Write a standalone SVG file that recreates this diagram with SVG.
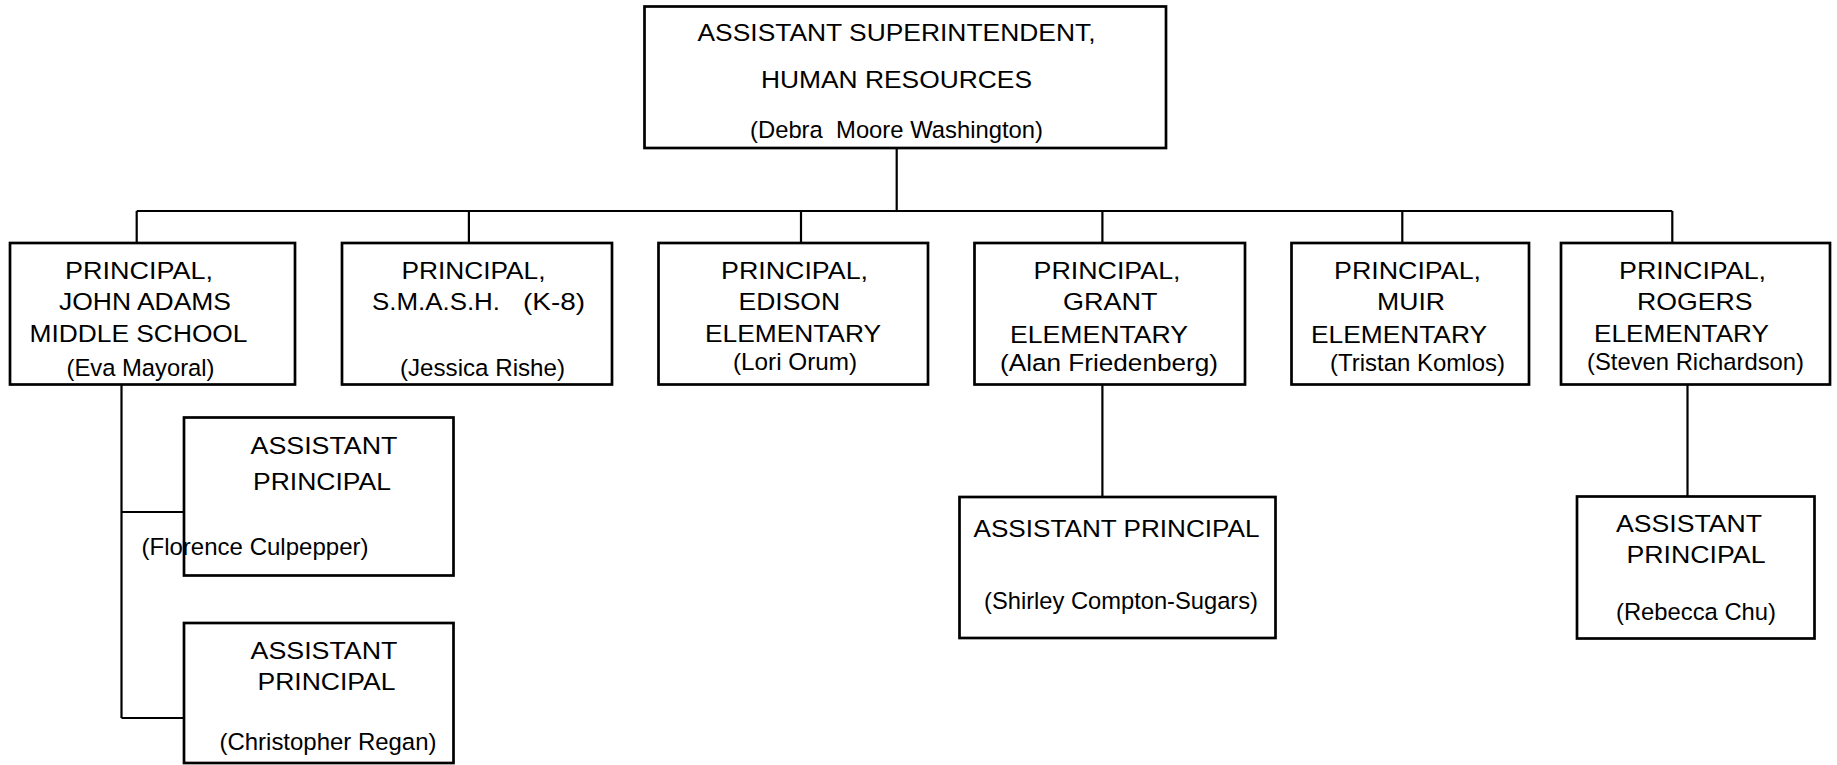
<svg xmlns="http://www.w3.org/2000/svg" width="1837" height="765" viewBox="0 0 1837 765">
<style>
.box{fill:#fff;stroke:#000;stroke-width:2.7}
.ln{fill:none;stroke:#000;stroke-width:2.2}
text{font-family:"Liberation Sans",Arial,sans-serif;font-size:24.5px;fill:#000}
</style>
<rect width="1837" height="765" fill="#fff"/>
<g id="connectors">
<path class="ln" d="M896.7,148 V211 M136.7,211 H1672.3 M136.7,211 V243 M468.9,211 V243 M801,211 V243 M1102.4,211 V243 M1402.3,211 V243 M1672.3,211 V243"/>
<path class="ln" d="M121.5,385 V718 M121.5,512 H184 M121.5,718 H184"/>
<path class="ln" d="M1102.4,385 V497"/>
<path class="ln" d="M1687.5,385 V496"/>
</g>
<g id="n-asst-super">
<rect class="box" x="644.5" y="6.5" width="521.5" height="141.5"/>
<text x="697.5" y="40.5" textLength="398" lengthAdjust="spacingAndGlyphs">ASSISTANT SUPERINTENDENT,</text>
<text x="761" y="88" textLength="271" lengthAdjust="spacingAndGlyphs">HUMAN RESOURCES</text>
<text x="750" y="137.5" textLength="293" lengthAdjust="spacingAndGlyphs" xml:space="preserve">(Debra  Moore Washington)</text>
</g>
<g id="n-john-adams">
<rect class="box" x="10" y="243" width="285" height="141.5"/>
<text x="65" y="278.5" textLength="148" lengthAdjust="spacingAndGlyphs">PRINCIPAL,</text>
<text x="59" y="310" textLength="172" lengthAdjust="spacingAndGlyphs">JOHN ADAMS</text>
<text x="29.5" y="341.7" textLength="218" lengthAdjust="spacingAndGlyphs">MIDDLE SCHOOL</text>
<text x="66.5" y="375.5" textLength="148" lengthAdjust="spacingAndGlyphs">(Eva Mayoral)</text>
</g>
<g id="n-smash">
<rect class="box" x="342" y="243" width="270" height="141.5"/>
<text x="401.5" y="278.5" textLength="144" lengthAdjust="spacingAndGlyphs">PRINCIPAL,</text>
<text y="310"><tspan x="372" textLength="128" lengthAdjust="spacingAndGlyphs">S.M.A.S.H.</tspan><tspan x="523" textLength="62" lengthAdjust="spacingAndGlyphs">(K-8)</tspan></text>
<text x="400" y="376" textLength="165" lengthAdjust="spacingAndGlyphs">(Jessica Rishe)</text>
</g>
<g id="n-edison">
<rect class="box" x="658.5" y="243" width="269.5" height="141.5"/>
<text x="721" y="278.5" textLength="147" lengthAdjust="spacingAndGlyphs">PRINCIPAL,</text>
<text x="738.5" y="310" textLength="101.5" lengthAdjust="spacingAndGlyphs">EDISON</text>
<text x="705" y="341.7" textLength="176" lengthAdjust="spacingAndGlyphs">ELEMENTARY</text>
<text x="733" y="369.5" textLength="124" lengthAdjust="spacingAndGlyphs">(Lori Orum)</text>
</g>
<g id="n-grant">
<rect class="box" x="974.5" y="243" width="270.5" height="141.5"/>
<text x="1033.5" y="278.5" textLength="147" lengthAdjust="spacingAndGlyphs">PRINCIPAL,</text>
<text x="1063" y="310" textLength="94.5" lengthAdjust="spacingAndGlyphs">GRANT</text>
<text x="1010" y="342.5" textLength="178" lengthAdjust="spacingAndGlyphs">ELEMENTARY</text>
<text x="1000" y="371" textLength="218" lengthAdjust="spacingAndGlyphs">(Alan Friedenberg)</text>
</g>
<g id="n-muir">
<rect class="box" x="1291.5" y="243" width="237.5" height="141.5"/>
<text x="1334" y="278.5" textLength="147" lengthAdjust="spacingAndGlyphs">PRINCIPAL,</text>
<text x="1377" y="310" textLength="68" lengthAdjust="spacingAndGlyphs">MUIR</text>
<text x="1311" y="342.5" textLength="176" lengthAdjust="spacingAndGlyphs">ELEMENTARY</text>
<text x="1330" y="371" textLength="175" lengthAdjust="spacingAndGlyphs">(Tristan Komlos)</text>
</g>
<g id="n-rogers">
<rect class="box" x="1561" y="243" width="269" height="141.5"/>
<text x="1619" y="278.5" textLength="147" lengthAdjust="spacingAndGlyphs">PRINCIPAL,</text>
<text x="1637" y="310" textLength="115.5" lengthAdjust="spacingAndGlyphs">ROGERS</text>
<text x="1594" y="341.7" textLength="175" lengthAdjust="spacingAndGlyphs">ELEMENTARY</text>
<text x="1587" y="370" textLength="217" lengthAdjust="spacingAndGlyphs">(Steven Richardson)</text>
</g>
<g id="n-ap-culpepper">
<rect class="box" x="184" y="417.5" width="269.5" height="158"/>
<text x="250.5" y="453.5" textLength="147" lengthAdjust="spacingAndGlyphs">ASSISTANT</text>
<text x="253" y="490" textLength="138" lengthAdjust="spacingAndGlyphs">PRINCIPAL</text>
<text x="141.5" y="555" textLength="227" lengthAdjust="spacingAndGlyphs">(Florence Culpepper)</text>
</g>
<g id="n-ap-regan">
<rect class="box" x="184" y="623" width="269.5" height="140"/>
<text x="250.5" y="659" textLength="147" lengthAdjust="spacingAndGlyphs">ASSISTANT</text>
<text x="257.5" y="690" textLength="138" lengthAdjust="spacingAndGlyphs">PRINCIPAL</text>
<text x="219.5" y="750" textLength="217" lengthAdjust="spacingAndGlyphs">(Christopher Regan)</text>
</g>
<g id="n-ap-compton">
<rect class="box" x="959.5" y="497" width="316" height="141"/>
<text x="973.5" y="537" textLength="286" lengthAdjust="spacingAndGlyphs">ASSISTANT PRINCIPAL</text>
<text x="984" y="608.5" textLength="274" lengthAdjust="spacingAndGlyphs">(Shirley Compton-Sugars)</text>
</g>
<g id="n-ap-chu">
<rect class="box" x="1577" y="496.5" width="237.5" height="142"/>
<text x="1616" y="531.7" textLength="146" lengthAdjust="spacingAndGlyphs">ASSISTANT</text>
<text x="1626.5" y="563.3" textLength="139" lengthAdjust="spacingAndGlyphs">PRINCIPAL</text>
<text x="1616" y="619.5" textLength="160" lengthAdjust="spacingAndGlyphs">(Rebecca Chu)</text>
</g>
</svg>
